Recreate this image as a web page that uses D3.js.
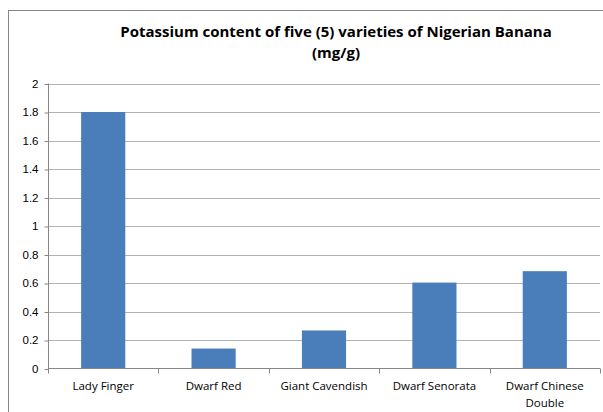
<!DOCTYPE html>
<html>
<head>
<meta charset="utf-8">
<script src="https://cdn.jsdelivr.net/npm/d3@7"></script>
<style>
  body { margin: 0; background: #fff; }
  svg { display: block; font-family: "Open Sans", "Liberation Sans", sans-serif; }
</style>
</head>
<body>
<svg id="chart" width="603" height="412"></svg>
<script>
const varieties = ["Lady Finger", "Dwarf Red", "Giant Cavendish", "Dwarf Senorata", "Dwarf Chinese Double"];
const potassium = [1.8, 0.14, 0.267, 0.603, 0.683];
const yTicks = [0, 0.2, 0.4, 0.6, 0.8, 1, 1.2, 1.4, 1.6, 1.8, 2];
const titleLines = ["Potassium content of five (5) varieties of Nigerian Banana", "(mg/g)"];

const svg = d3.select("#chart");
const plotLeft = 48, plotRight = 600, plotTop = 83.5, plotBottom = 368.5;

// chart frame
svg.append("rect")
   .attr("x", 8.5).attr("y", 10.5)
   .attr("width", 620).attr("height", 420)
   .attr("fill", "none")
   .attr("stroke", "#868686")
   .attr("stroke-width", 1);

const x = d3.scaleBand()
            .domain(varieties)
            .range([plotLeft, plotRight])
            .paddingInner(0.6)
            .paddingOuter(0.3);

const y = d3.scaleLinear()
            .domain([0, 2])
            .range([plotBottom, plotTop]);

// gridlines
svg.append("g")
   .selectAll("line")
   .data(yTicks.filter(d => d > 0))
   .enter()
   .append("line")
   .attr("x1", plotLeft).attr("x2", plotRight)
   .attr("y1", d => Math.round(y(d)) + 0.5)
   .attr("y2", d => Math.round(y(d)) + 0.5)
   .attr("stroke", "#b3b3b3");

// bars
svg.append("g")
   .selectAll("rect")
   .data(varieties)
   .enter()
   .append("rect")
   .attr("x", d => x(d))
   .attr("width", x.bandwidth())
   .attr("y", (d, i) => y(potassium[i]))
   .attr("height", (d, i) => plotBottom - y(potassium[i]))
   .attr("fill", "#4a7ebb");

// y axis
const yAxis = d3.axisLeft(y)
                .tickValues(yTicks)
                .tickSize(4)
                .tickPadding(6)
                .tickFormat(d => d3.format("")(+d.toFixed(1)));
const gy = svg.append("g")
              .attr("transform", `translate(${plotLeft + 0.5},0)`)
              .call(yAxis);
gy.selectAll("line").attr("stroke", "#868686").attr("transform", "translate(0,0.5)");
gy.select(".domain").attr("stroke", "#868686").attr("d", `M0,${plotTop}V${plotBottom}`);
gy.selectAll("text").attr("fill", "#000").style("font-size", "11.5px");

// x axis
const step = (plotRight - plotLeft) / varieties.length;
const gx = svg.append("g");
gx.append("line")
  .attr("x1", plotLeft).attr("x2", plotRight)
  .attr("y1", plotBottom).attr("y2", plotBottom)
  .attr("stroke", "#868686");
gx.selectAll(".tick")
  .data(d3.range(varieties.length + 1))
  .enter()
  .append("line")
  .attr("x1", i => Math.round(plotLeft + i * step) + 0.5)
  .attr("x2", i => Math.round(plotLeft + i * step) + 0.5)
  .attr("y1", plotBottom).attr("y2", plotBottom + 5)
  .attr("stroke", "#868686");

const labelLines = { "Dwarf Chinese Double": ["Dwarf Chinese", "Double"] };
gx.selectAll(".lbl")
  .data(varieties)
  .enter()
  .append("text")
  .attr("text-anchor", "middle")
  .attr("font-size", "11.5px")
  .attr("fill", "#000")
  .each(function(d) {
    const lines = labelLines[d] || [d];
    const t = d3.select(this);
    lines.forEach((l, j) => {
      t.append("tspan")
       .attr("x", x(d) + x.bandwidth() / 2)
       .attr("y", 390 + j * 17)
       .text(l);
    });
  });

// title
svg.append("g")
   .selectAll("text")
   .data(titleLines)
   .enter()
   .append("text")
   .attr("x", 336)
   .attr("y", (d, i) => 37 + i * 21)
   .attr("text-anchor", "middle")
   .attr("font-weight", "bold")
   .attr("font-size", "15px")
   .attr("fill", "#000")
   .text(d => d);
</script>
</body>
</html>
